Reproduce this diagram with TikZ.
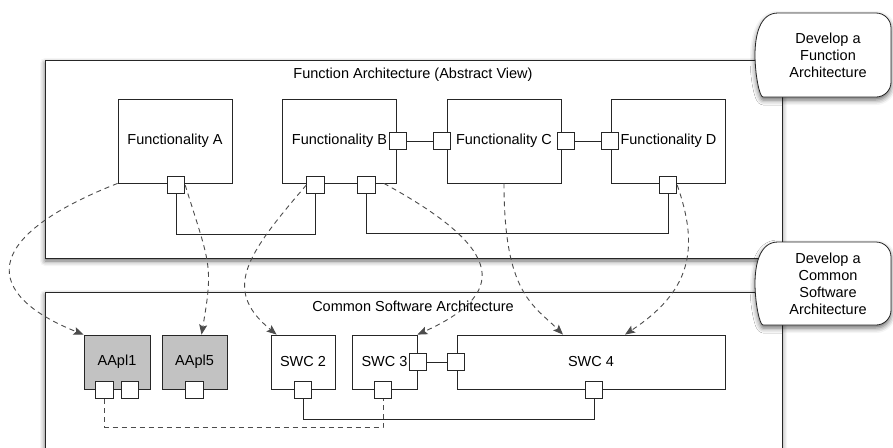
\documentclass[tikz,border=0pt]{standalone}
\usepackage{fontspec}
\setmainfont{Liberation Sans}
\usetikzlibrary{arrows.meta,shadows.blur}

\begin{document}
\begin{tikzpicture}[x=1pt,y=-1pt,>={Stealth[length=10pt,width=8pt,inset=2pt]},font=\fontsize{14.5}{17}\selectfont]
\tikzstyle{frame} = [draw=black!85, line width=0.8pt, fill=white, blur shadow={shadow xshift=0pt, shadow yshift=-3pt, shadow blur radius=5pt, shadow opacity=60}]
\tikzstyle{lanetext} = [align=center, inner sep=0pt]
\tikzstyle{block} = [rectangle, draw=black!85, line width=0.8pt, fill=white, minimum height=84pt, minimum width=114pt, inner sep=0pt]
\tikzstyle{swc} = [block, minimum height=54pt, minimum width=65pt]
\tikzstyle{port} = [rectangle, draw=black!85, line width=0.8pt, fill=white, minimum size=17.5pt, inner sep=0pt]
\tikzstyle{wire} = [draw=black!85, line width=0.8pt]
\tikzstyle{link} = [draw=black!70, line width=0.9pt, dash pattern=on 5pt off 4pt]

\useasboundingbox (0,0) rectangle (893,447);
\clip (0,0) rectangle (893,447);

\draw[frame] (45,60) rectangle (782,258);
\draw[frame] (45,292) rectangle (782,480);
\draw[wire] (782,97) -- (782,447);

\node at (413,75) (fat) {Function Architecture (Abstract View)};
\node at (413,306) (csat) {Common Software Architecture};

\node at (175,141) [block] (fa) {Functionality A};
\node at (339.5,141) [block] (fb) {Functionality B};
\node at (504,141) [block] (fc) {Functionality C};
\node at (668.5,141) [block] (fd) {Functionality D};

\node at (176,185) [port] (fap) {};
\node at (315.5,185) [port] (fbp1) {};
\node at (366.5,185) [port] (fbp2) {};
\node at (398,141) [port] (fbr) {};
\node at (442,141) [port] (fcl) {};
\node at (566,141) [port] (fcr) {};
\node at (610,141) [port] (fdl) {};
\node at (668,185) [port] (fdp) {};

\draw[wire] (fbr) -- (fcl);
\draw[wire] (fcr) -- (fdl);
\draw[wire] (fap.south) -- ++(0,40) -| (fbp1.south);
\draw[wire] (fbp2.south) -- ++(0,39) -| (fdp.south);

\node at (117,362) [swc, fill=black!24, minimum width=66pt] (ap1) {AApl1};
\node at (194.5,362) [swc, fill=black!24] (ap5) {AApl5};
\node at (303,362) [swc, minimum width=64pt] (sw2) {SWC 2};
\node at (384.5,362) [swc] (sw3) {SWC 3};
\node at (591,362) [swc, minimum width=268pt] (sw4) {SWC 4};

\node at (104.5,390) [port] (a1p1) {};
\node at (130,390) [port] (a1p2) {};
\node at (194.5,390) [port] (a5p) {};
\node at (303,390) [port] (s2p) {};
\node at (383,390) [port] (s3p) {};
\node at (418,362) [port] (s3r) {};
\node at (456,362) [port] (s4l) {};
\node at (594,390) [port] (s4p) {};

\draw[wire] (s3r) -- (s4l);
\draw[wire] (s2p.south) -- ++(0,20) -| (s4p.south);
\draw[link] (a1p1.south) -- ++(0,28) -| (s3p.south);

\draw[link,->] (fa.south west) .. controls +(-140,55) and +(-100,-40) .. (ap1.north west);
\draw[link,->] (fap.east) .. controls +(25,80) and +(12,-70) .. ([xshift=7pt]ap5.north);
\draw[link,->] (fbp1.west) .. controls +(-60,70) and +(-55,-45) .. ([xshift=6pt]sw2.north west);
\draw[link,->] ([xshift=-13pt]fb.south east) .. controls +(110,60) and +(100,-45) .. (sw3.north east);
\draw[link,->] (fc.south) .. controls +(0,110) and +(-30,-30) .. ([xshift=-28pt]sw4.north);
\draw[link,->] (fdp.east) .. controls +(23,65) and +(65,-43) .. ([xshift=34pt]sw4.north);

\draw[frame] (778,97) to[out=180,in=-90] (755,55) to[out=90,in=180] (778,13) [rounded corners=15pt] -- (891,13) -- (891,97) -- cycle;
\node at (828,55) [lanetext] (devfa) {Develop a\\Function\\Architecture};

\draw[frame] (778,325) to[out=180,in=-90] (755,283.5) to[out=90,in=180] (778,242) [rounded corners=15pt] -- (891,242) -- (891,325) -- cycle;
\node at (828,284) [lanetext] (devcsa) {Develop a\\Common\\Software\\Architecture};

\end{tikzpicture}
\end{document}
